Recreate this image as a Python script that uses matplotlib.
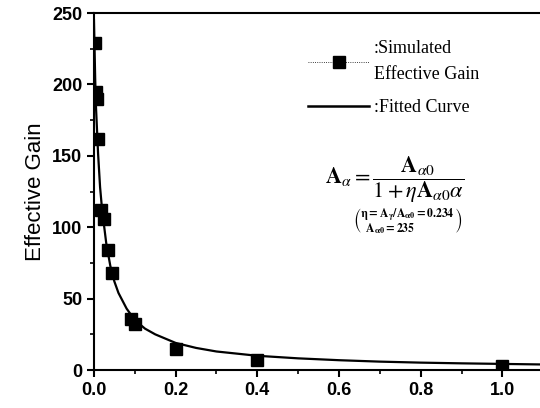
import matplotlib
matplotlib.use('Agg')
import matplotlib.pyplot as plt
from matplotlib.lines import Line2D
from matplotlib.ticker import MultipleLocator, FormatStrFormatter

## simulated effective gain
simAlpha = [0.003, 0.005, 0.007, 0.010, 0.018, 0.025, 0.035, 0.045, 0.090, 0.100, 0.200, 0.400, 1.000]
simGain = [229, 195, 190, 162, 112, 106, 84, 68, 36, 32, 15, 7, 3]

## fitted curve, sampled along the drawn line
fitAlpha = [0.0, 0.003, 0.005, 0.01, 0.015, 0.02, 0.03, 0.04, 0.05, 0.06, 0.08, 0.1,
            0.125, 0.15, 0.2, 0.25, 0.3, 0.4, 0.5, 0.6, 0.7, 0.8, 0.9, 1.0, 1.1]
fitGain = [245, 204, 184, 152, 128, 112, 89, 73, 62, 54, 43, 35,
           29, 25, 19, 15.5, 13, 10, 8.2, 6.9, 5.9, 5.2, 4.7, 4.3, 3.9]

plt.rcParams['mathtext.fontset'] = 'stix'

fig = plt.figure(figsize=(5.4, 4.08), dpi=100)
ax = fig.add_axes([0.174, 0.093, 0.832, 0.875])

ax.plot(fitAlpha, fitGain, color='black', lw=1.6)
ax.plot(simAlpha, simGain, ls='none', marker='s', ms=8, color='black')

ax.set_xlim(0, 1.1)
ax.set_ylim(0, 250)
ax.xaxis.set_major_locator(MultipleLocator(0.2))
ax.xaxis.set_minor_locator(MultipleLocator(0.1))
ax.yaxis.set_major_locator(MultipleLocator(50))
ax.yaxis.set_minor_locator(MultipleLocator(25))
ax.xaxis.set_major_formatter(FormatStrFormatter('%.1f'))
ax.spines['right'].set_visible(False)
for s in ['left', 'bottom', 'top']:
    ax.spines[s].set_linewidth(1.5)
ax.tick_params(which='major', length=5, width=1.5, direction='out')
ax.tick_params(which='minor', length=3, width=1.2, direction='out')
ax.tick_params(top=False, right=False)

for lab in ax.get_xticklabels() + ax.get_yticklabels():
    lab.set_fontfamily('Liberation Sans')
    lab.set_fontweight('bold')
    lab.set_fontsize(13)

ax.set_ylabel('Effective Gain', fontfamily='Liberation Sans', fontsize=16, labelpad=4)

## legend, built by hand to keep the order of the original
handles = [Line2D([], [], color='black', ls=':', lw=0.6, marker='s', ms=8),
           Line2D([], [], color='black', lw=1.8)]
leg = ax.legend(handles, [':Simulated\nEffective Gain', ':Fitted Curve'],
                loc='upper left', bbox_to_anchor=(0.44, 0.97), frameon=False,
                handlelength=3.4, handletextpad=0.25, labelspacing=0.9,
                prop={'family': 'Liberation Serif', 'size': 13})
for t in leg.get_texts():
    t.set_linespacing(1.7)

ax.text(0.67, 0.535, r'$\mathbf{A}_{\alpha} = \dfrac{\mathbf{A}_{\alpha 0}}{1+\eta \mathbf{A}_{\alpha 0}\alpha}$',
        transform=ax.transAxes, fontsize=16, ha='center', va='center')
ax.text(0.70, 0.415, r'$\left(\genfrac{}{}{0}{}{\mathbf{\eta = A_{\gamma}/A_{\alpha 0}=0.234}}{\mathbf{A_{\alpha 0}=235}\qquad\qquad}\right)$',
        transform=ax.transAxes, fontsize=12, ha='center', va='center')

fig.savefig('out.png', dpi=100)
